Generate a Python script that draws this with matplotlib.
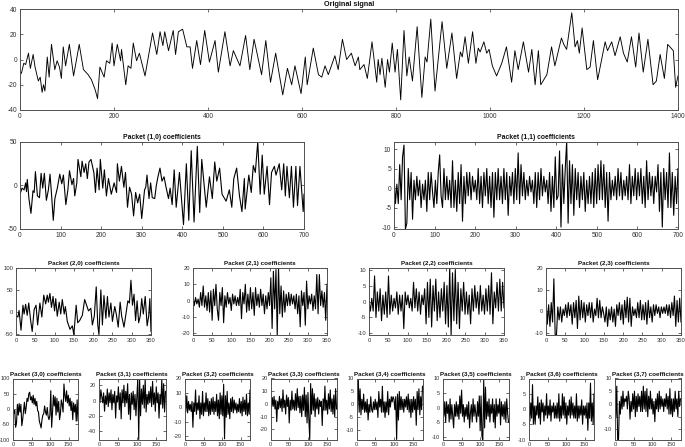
import numpy as np
import matplotlib
matplotlib.use("Agg")
import matplotlib.pyplot as plt

plt.rcParams['font.family'] = ['Liberation Sans', 'DejaVu Sans']
plt.rcParams['axes.unicode_minus'] = False

# Original signal, turning points
orig_x = [0,3,8,12,18,22,28,32,39,43,47,50,53,58,62,67,74,79,84,88,92,97,105,114,126,135,140,145,152,160,165,170,179,184,191,196,200,207,214,216,225,230,236,241,248,254,266,273,282,291,298,304,308,316,326,331,337,346,355,362,367,376,384,393,403,415,422,436,443,447,454,468,480,489,498,514,523,533,544,559,569,578,585,598,607,611,624,635,642,649,656,670,677,686,695,705,713,720,723,732,739,749,759,762,766,770,777,782,786,792,798,803,810,817,823,828,835,845,855,862,866,874,883,898,908,919,929,937,941,947,954,963,970,975,979,987,993,998,1005,1014,1025,1035,1046,1053,1060,1071,1082,1089,1096,1103,1108,1121,1131,1138,1152,1157,1163,1174,1181,1186,1190,1196,1206,1213,1220,1229,1245,1250,1259,1266,1277,1284,1292,1301,1310,1317,1326,1336,1347,1354,1362,1371,1378,1390,1395,1400]
orig_y = [-10,-11,-3,-4,5,-7,4,-6,-17,-14,-26,-20,-25,2,-14,12,-8,-1,-6,-15,10,-5,12,-13,12,-8,-10,-12,-16,-24,-31,-6,-14,-1,-3,13,-5,12,-1,8,-20,-5,-7,13,-1,5,-13,2,21,4,22,11,22,7,23,4,22,24,10,10,-7,15,-4,23,-2,15,-10,22,5,-5,7,-5,19,-8,16,-12,15,-18,5,-28,-7,-20,-5,-27,2,-20,9,-12,-14,-5,-12,3,-8,16,0,5,-5,2,-8,-4,-15,14,-18,0,-12,1,-22,0,-10,13,-10,8,-32,23,-13,2,-17,26,-30,2,-2,32,-25,30,-7,21,-15,6,2,18,-3,22,-3,9,6,14,5,8,-5,-13,-3,10,-18,7,-8,14,-10,8,-20,7,-20,-12,10,-5,17,12,8,37,10,15,5,25,-8,-6,15,-16,14,7,14,3,18,5,-2,18,-6,21,-10,16,-20,-17,4,-15,12,7,-22,-13]

p10_x = [0,5,10,14,16,18,22,27,32,35,38,43,48,52,56,60,65,70,74,78,82,86,92,98,103,107,113,118,122,128,132,135,140,143,150,153,158,162,166,170,175,182,186,190,195,198,204,208,213,218,225,232,238,240,245,250,256,260,265,270,275,280,285,290,295,300,307,310,313,318,322,326,332,336,340,345,350,355,360,366,370,375,380,385,393,403,410,416,422,429,437,443,448,459,467,474,480,485,492,498,508,516,522,527,534,541,547,553,555,564,570,575,580,586,592,597,602,609,615,620,627,631,639,645,650,654,658,664,669,674,680,684,690,698,700]
p10_y = [-10,-3,-5,3,-7,7,-15,-32,-6,-8,16,-12,-14,14,-3,14,-17,-5,13,-12,-40,-15,-3,13,2,12,-22,-5,17,1,8,-12,3,30,10,28,15,25,8,27,30,15,-8,20,-5,30,-3,18,-12,8,-10,3,-8,25,5,22,-2,15,-25,-2,-10,-35,-8,-20,-10,-38,-5,-2,12,-15,3,-14,-15,0,10,20,5,10,-2,-15,-3,-22,18,-25,15,-45,25,-40,40,-42,45,-31,30,-25,10,-15,27,5,20,-10,-18,-5,-25,8,20,-12,-30,8,-27,12,-8,23,15,50,-10,35,-10,22,-22,15,22,12,25,-5,25,-12,22,-14,22,-25,22,-23,22,-30,-10]

p11 = [3,-4,1,-4,6,-3,8,11,-10.5,-9,
       5,-3,4,-8,2,-3,3,-2,2,-5,
       1,-3,2,-6,4,-3,4,-1,-5,2,
       -4,4,8.5,-2,-5,5,-3,3,-3,2,
       -5,7,-5,2,-6,4,-4,6,-8.5,3,
       -4,4,-2,4,-3,3,-1,2,-3,5,
       -4,3,-5,4,-2,5,-4,3,-5,4,
       -7.5,4,-3,5,-3,3,-4,5,-3,4,
       -7,3,-2,4,-4,5,-3,9,-4,6,
       -2,4,-3,2,-2,3,-1,2,-4,4,
       -5,4,-3,5,-2,3,-1,2,-4,4,
       -6,3,-5,8,-3,-2,9.5,-10,6,-4,
       5,12,-9,7,-4,6,-7,5,-3,4,
       -5,3,-3,4,-6,2,-4,3,-4,4,
       -5,5,-4,6,-3,7,-3,6,-5,4,
       -8.5,4,-3,2,-2,3,-3,5,-2,4,
       -3,2,-2,3,-3,6,-4,3,-2,5,
       -3,4,-2,5,-4,3,-5,7,-3,4,
       -2,3,-4,3,-1,6,-6,4,-10,5,
       -3,4,-5,9,-5,4,-7,3,-4,5]

p20_x = [0,5,8,10,13,18,21,25,29,33,38,42,47,52,56,62,67,72,77,81,84,88,92,96,100,103,107,112,116,120,125,128,133,140,146,150,156,160,165,172,178,183,188,194,198,203,208,212,215,220,224,228,233,237,241,246,250,256,260,265,270,274,280,285,290,294,298,302,306,310,314,318,322,326,330,335,340,344,347,350]
p20_y = [-8,-12,3,-15,-42,15,-5,17,-8,20,-20,-45,5,15,-30,20,-12,38,18,38,22,42,10,35,2,30,-10,22,-5,28,-5,12,-22,-40,-32,-52,15,-25,-20,-8,28,15,2,8,-30,-10,57,-30,-52,50,-30,37,-15,35,-12,20,-22,12,-5,-35,22,-10,-35,-5,25,20,72,15,40,-20,25,-25,-10,30,-5,35,-32,-10,30,-45]

p21 = [2,-3,2,-2,1,-4,5,-3,9,-4,3,-6,5,-7,6,-12,7,-3,10,-5,-12,5,-3,8,-13.5,3,-4,5,-2,2,-6,4,-2,3,-3,2,-3,7,-11,5,-2,10,-7,4,-6,8,-5,5,-9,8,-3,4,-4,7,-3,4,-8,3,-5,5,-3,14,-17,18,-5,19,-21,20,-8,9,-10,6,-7,4,-3,5,-3,4,-2,3,-5,4,-8,3,-16,6,-3,5,-15,12,-5,3,-2,4,-6,3,-5,16,-8,16,-3,6,-4,5,-12,10]

p22 = [0,-3,1,-3,8,-5,3,-3,4,-6,2,-4,3,-5,8,-4,2,-3,1,-2,3,-4,2,-3,2,-8.5,3,-1,2,-2,1,-3,6,-2,4,-3,3,-4,2,-1,4,-7,6,-5,7,-8,5,-3,7,-6,3,-5,4,-3,6,-7,5,-8,10.5,-10.5,9,-6,10,-7,6,-8.5,4,-3,6,-4,3,-4,2,-7,4,-3,5,-2,3,-4,5,-3,2,-4,4,-3,5,-4,9,-7,3,-2,6,-3,7,-3,6,-2]

p23 = [6,-6,3,-7,4,-5,15,-11,-11,2,-4,2,-5,1,-2,3,-3,4,-2,3,-6,4,-3,5,-8,7,-4,5,-3,4,-5,3,-2,4,-3,4,-5,1,-2,6,-3,5,-3,2,-1,-5,2,-7,1,-4,2,-5,1,-7,3,-2,4,-4,3,-6,5,-3,6.5,-5,6,-7,2,-2,1,-3,4,-3,5,-4,3,-4,4,-6,5,-3,2,-5,3,-2,3,-1,2,-3,2,-1,2,-1,3,-2,3,-3,4,-2,7,-7,5,-5,6,-5]

p30 = [-10,-15,-5,-60,-45,15,-20,18,-10,15,-55,-35,-5,22,-15,5,35,25,50,55,30,40,20,45,15,35,10,25,-5,-10,-40,-50,-62,-35,-20,-15,10,-10,-20,5,-25,-35,-20,60,-60,-10,45,10,40,-20,35,-10,25,-35,-15,30,15,-10,82,45,25,60,20,45,10,35,-5,25,-35,20,-10,15,-40,30,-38]

p31 = [3,-3,14,5,-3,10,-14,6,-5,15,-8,10,-3,14,-12,8,-3,12,-23,6,-2,18,-12,10,-24,14,-3,20,-8,12,-3,22,-18,8,-25,10,-5,12,-12,8,-20,5,28,-51,28,-20,15,-5,20,-10,28,-15,8,-5,12,-3,18,-8,25,-5,10,-14,18,-3,10,-23,8,-5,28,-10,22,-15,12]

p32 = [9,-3,8,-4,4,-2,2,-3,4,-14,3,-3,12,-5,3,-2,8,-8,3,-5,11,-6,3,-3,10,-3,6,-6,4,-5,6,-3,7,-5,4,-3,9,-6,5,-8,10,-5,8,-6,16,-22,8,-7,11,-5,3,-8,6,-3,7,-4,5,-2,3,-4,2,-3,6,-4,4,-6,7,-3,5,-5,9,-6,3,-5,12]

p33 = [2,-3,5,-2,6,-4,3,-14,2,-4,6,-3,4,-6,11,-3,3,-8,7,-2,5,-15,3,-5,10,-4,3,-5,8,-5,12,-3,6,-7,6,-10,7,-5,13,-10,7,-15,9,-12,-28,16,-8,12,-5,8,-10,4,-4,5,-8,3,-2,2,-17,4,-5,14,-5,3,-8,8,-4,11,-6,4,-8,7,-10,12,-4]

p34 = [1,-2,10,-3,6,-4,2,-2,4,-3,1,-3,2,-6,0,-3,3,-2,-3,1,-2,2,-2,1,-5,5,-1,2,-3,7,-3,1,-5,1,-3,5,-4,2,-1,3,1,3,2,-2,3,-13.5,4,-6,5,-2,3,-2,2,-3,2,-1,3,-2,4,-3,2,-5,2,-3,3,-2,2,-8,5,-2,6,-4,3,-2,7]

p35 = [2,-3,2,-5,2,-2,1,-5,3,-4,1,-3,-7,1,-3,2,-3,1,-4,4,-2,6,-3,1,-5,0,-3,1,-4,2,-7,-2,1,-5,3,-3,1,-2,-5,2,-3,4,-8,4,-10,-11,9.5,-7,7,-4,2,-3,3,-5,1,-2,3,-5,1,-7,3,-3,1,-2,3,-6,2,-3,1,-4,2,-5,3,-2,-5]

p36 = [2,-4,2,-3,8,-5,1,-5,1,-2,4,-3,2,-5,3,-1,2,-4,1,-2,5,-3,1,-2,3,-4,1,-1,2,-3,1,-3,2,-3,5,-4,1,-3,5,-2,4,-3,2,-5,1,-2,3,-3,4,-2,2,-3,1,-3,5,-4,1,-3,1,-2,3,-5,1,-2,1,-3,2,-7,2,-3,8.5,-4,2,-5,5]

p37 = [3,-5,7,-14,-14,1,-4,3,-2,5,-1,2,1,3,-2,5,2,-6,1,-3,4,-2,5,-5,3,-3,4,-1,3,-3,5,-3,7,-2,5,-3,6,-5,3,-2,5,-2,2,-4,1,-7,2,-2,4,-3,5,-2,3,-1,2,-3,2,-1,4,-2,3,-4,6,-4,2,-5,2,-3,5,-2,2,-5,5,-1,2]

W, H = 685, 447


def add_panel(left, right, top, bottom, xmax, ylim, xticks, yticks, title, xv, yv, tsize=4.9, lsize=4.8, lw=0.8):
    """Make one panel from pixel edges, MATLAB look with ticks on all sides"""
    ax = fig.add_axes([left / W, 1 - bottom / H, (right - left) / W, (bottom - top) / H])
    ax.plot(xv, yv, color='black', linewidth=lw)
    ax.set_xlim(0, xmax)
    ax.set_ylim(*ylim)
    ax.set_xticks(xticks)
    ax.set_yticks(yticks)
    ax.tick_params(direction='in', top=True, right=True, length=2, width=0.5,
                   labelsize=lsize, pad=2, colors='#303030')
    for s in ax.spines.values():
        s.set_linewidth(0.7)
        s.set_color('#505050')
    ax.set_title(title, fontsize=tsize, fontweight='bold', pad=2, color='#111111')
    return ax


def even_x(vals, xmax):
    return np.linspace(0, xmax, len(vals))


fig = plt.figure(figsize=(W / 100, H / 100), dpi=100)

add_panel(20, 678, 9, 110, 1400, (-40, 40), list(range(0, 1401, 200)), [-40, -20, 0, 20, 40],
          'Original signal', orig_x, orig_y, tsize=5.25, lw=0.65)

t700 = list(range(0, 701, 100))
add_panel(20, 304, 142, 229, 700, (-50, 50), t700, [-50, 0, 50], 'Packet (1,0) coefficients', p10_x, p10_y)
add_panel(394, 678, 142, 229, 700, (-10.5, 11.8), t700, [-10, -5, 0, 5, 10],
          'Packet (1,1) coefficients', even_x(p11, 700), p11)

t350 = list(range(0, 351, 50))
add_panel(16, 151, 268, 335, 350, (-53, 100), t350, [-50, 0, 50, 100], 'Packet (2,0) coefficients',
          p20_x, p20_y, tsize=4.5, lsize=4.2)
add_panel(193, 327, 268, 335, 350, (-21, 20), t350, [-20, -10, 0, 10, 20],
          'Packet (2,1) coefficients', even_x(p21, 350), p21, tsize=4.5, lsize=4.2)
add_panel(369, 504, 268, 335, 350, (-10.5, 10.5), t350, [-10, -5, 0, 5, 10],
          'Packet (2,2) coefficients', even_x(p22, 350), p22, tsize=4.5, lsize=4.2)
add_panel(546, 681, 268, 335, 350, (-11, 20), t350, [-10, 0, 10, 20],
          'Packet (2,3) coefficients', even_x(p23, 350), p23, tsize=4.5, lsize=4.2)

t175 = [0, 50, 100, 150]
row3 = [
    (13, 78, (-100, 100), [-100, -50, 0, 50, 100], '(3,0)', p30),
    (99, 165.5, (-51, 28.8), [-40, -20, 0, 20], '(3,1)', p31),
    (185, 250, (-22.5, 20), [-20, -10, 0, 10, 20], '(3,2)', p32),
    (270.5, 336.5, (-28, 20), [-20, -10, 0, 10, 20], '(3,3)', p33),
    (356.5, 422.5, (-13.5, 10), [-10, -5, 0, 5, 10], '(3,4)', p34),
    (443, 508.5, (-11, 10), [-10, -5, 0, 5, 10], '(3,5)', p35),
    (529, 594, (-10, 10), [-10, -5, 0, 5, 10], '(3,6)', p36),
    (615, 680.5, (-14, 10), [-10, -5, 0, 5, 10], '(3,7)', p37),
]
for left, right, ylim, yticks, name, vals in row3:
    add_panel(left, right, 378.5, 439.5, 175, ylim, t175, yticks,
              'Packet ' + name + ' coefficients', even_x(vals, 175), vals, tsize=4.5, lsize=4.0)

fig.savefig('out.png', dpi=100)
